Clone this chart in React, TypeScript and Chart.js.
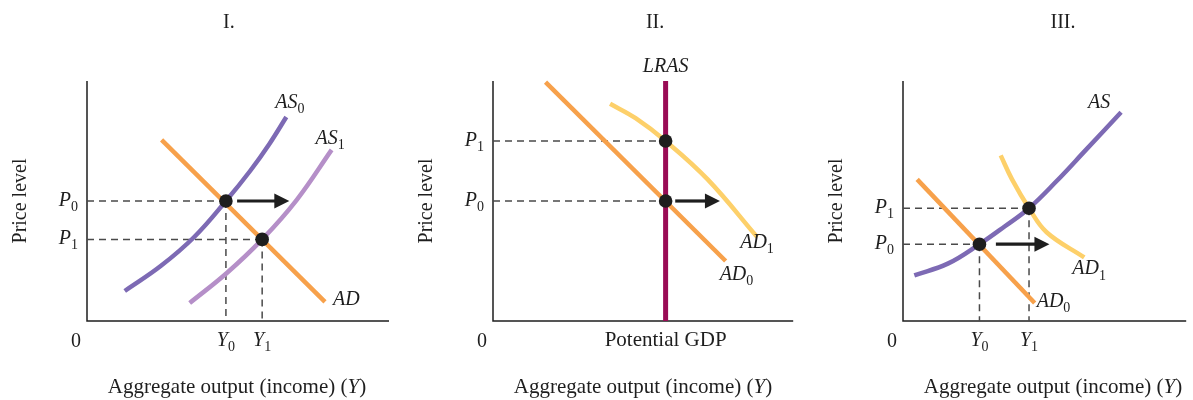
import React, { useEffect, useRef } from "react";
import { Chart, registerables } from "chart.js";

Chart.register(...registerables);

type Pt = { x: number; y: number };
type Part = { t: string; it?: boolean; sub?: boolean };

// ---------------- data ----------------
const panelTitles = ["I.", "II.", "III."];
const yAxisTitle = "Price level";
const xAxisTitleMain = "Aggregate output (income) (";
const xAxisTitleVar = "Y";
const zeroLabel = "0";
const potentialLabel = "Potential GDP";

// Panel I: AS shifts right
const p1AS0: Pt[] = [
  { x: 12.5, y: 12.5 },
  { x: 24.5, y: 23 },
  { x: 35.5, y: 35 },
  { x: 46, y: 50 },
  { x: 54, y: 62.5 },
  { x: 60.5, y: 74 },
  { x: 66, y: 85 },
];
const p1AS1: Pt[] = [
  { x: 34, y: 7.5 },
  { x: 46.3, y: 20 },
  { x: 58, y: 34 },
  { x: 69.4, y: 50.4 },
  { x: 81, y: 71.3 },
];
const p1AD: Pt[] = [
  { x: 24.7, y: 75.5 },
  { x: 78.8, y: 8 },
];
const p1Eq0: Pt = { x: 46, y: 50 };
const p1Eq1: Pt = { x: 58, y: 34 };
const p1Arrow: Pt[] = [
  { x: 49.7, y: 50 },
  { x: 67, y: 50 },
];

// Panel II: AD shifts right, vertical LRAS
const p2Potential = 57.5;
const p2LRAS: Pt[] = [
  { x: p2Potential, y: 0 },
  { x: p2Potential, y: 100 },
];
const p2AD0: Pt[] = [
  { x: 17.5, y: 99.5 },
  { x: 77.5, y: 25 },
];
const p2AD1: Pt[] = [
  { x: 39, y: 90.5 },
  { x: 47.5, y: 84.5 },
  { x: 57.5, y: 75 },
  { x: 71.5, y: 59 },
  { x: 88, y: 35 },
];
const p2P0 = 50;
const p2P1 = 75;
const p2Arrow: Pt[] = [
  { x: 60.7, y: 50 },
  { x: 75.6, y: 50 },
];

// Panel III: AD shifts right along upward-sloping AS
const p3AS: Pt[] = [
  { x: 4, y: 19 },
  { x: 16, y: 24 },
  { x: 27, y: 32 },
  { x: 36, y: 39.5 },
  { x: 44.5, y: 47 },
  { x: 54, y: 58 },
  { x: 64.5, y: 71.2 },
  { x: 77, y: 87 },
];
const p3AD0: Pt[] = [
  { x: 5, y: 59 },
  { x: 46.5, y: 7.5 },
];
const p3AD1: Pt[] = [
  { x: 34.5, y: 69 },
  { x: 38.5, y: 59 },
  { x: 44.5, y: 47 },
  { x: 50.7, y: 37 },
  { x: 64, y: 26.5 },
];
const p3Eq0: Pt = { x: 27, y: 32 };
const p3Eq1: Pt = { x: 44.5, y: 47 };
const p3Arrow: Pt[] = [
  { x: 32.8, y: 32 },
  { x: 51.7, y: 32 },
];

// ---------------- styles ----------------
const FONT = '"Liberation Serif", "Times New Roman", serif';
const FS = 20;
const FS_AXIS = 21;
const C_PURPLE = "#7d6ab4";
const C_LPURPLE = "#b58fc8";
const C_ORANGE = "#f7a14b";
const C_YELLOW = "#fdd06a";
const C_LRAS = "#990b55";
const C_INK = "#1e1e1e";
const C_DASH = "#4a4a4a";

type Curve = { data: Pt[]; color: string; width: number; tension: number; order: number };
type Label = { parts: Part[]; at: Pt; dx: number; dy: number; align: "left" | "center" | "right" };
type Spec = {
  canvasLeft: number;
  canvasWidth: number;
  padding: { left: number; right: number; top: number; bottom: number };
  title: string;
  titleX: number;
  curves: Curve[];
  dashes: Pt[][];
  dots: Pt[];
  arrow: Pt[];
  labels: Label[];
  yTicks: { parts: Part[]; v: number }[];
  xTicks: { parts: Part[]; v: number; size?: number }[];
};

const it = (t: string): Part => ({ t, it: true });
const sub = (t: string): Part => ({ t, sub: true });

function hDash(p: Pt): Pt[] {
  return [{ x: 0, y: p.y }, { x: p.x, y: p.y }];
}
function vDash(p: Pt): Pt[] {
  return [{ x: p.x, y: p.y }, { x: p.x, y: 0 }];
}

const specs: Spec[] = [
  {
    canvasLeft: 0,
    canvasWidth: 400,
    padding: { left: 87, right: 11, top: 81, bottom: 79 },
    title: panelTitles[0],
    titleX: 47,
    curves: [
      { data: p1AD, color: C_ORANGE, width: 4.5, tension: 0, order: 1 },
      { data: p1AS0, color: C_PURPLE, width: 4.5, tension: 0.4, order: 2 },
      { data: p1AS1, color: C_LPURPLE, width: 4.5, tension: 0.4, order: 2 },
    ],
    dashes: [hDash(p1Eq0), vDash(p1Eq0), hDash(p1Eq1), vDash(p1Eq1)],
    dots: [p1Eq0, p1Eq1],
    arrow: p1Arrow,
    labels: [
      { parts: [it("AS"), sub("0")], at: p1AS0[p1AS0.length - 1], dx: -11, dy: -9, align: "left" },
      { parts: [it("AS"), sub("1")], at: p1AS1[p1AS1.length - 1], dx: -16, dy: -6, align: "left" },
      { parts: [it("AD")], at: p1AD[p1AD.length - 1], dx: 8, dy: 3, align: "left" },
    ],
    yTicks: [
      { parts: [it("P"), sub("0")], v: p1Eq0.y },
      { parts: [it("P"), sub("1")], v: p1Eq1.y },
    ],
    xTicks: [
      { parts: [it("Y"), sub("0")], v: p1Eq0.x },
      { parts: [it("Y"), sub("1")], v: p1Eq1.x },
    ],
  },
  {
    canvasLeft: 400,
    canvasWidth: 400,
    padding: { left: 93, right: 4, top: 81, bottom: 79 },
    title: panelTitles[1],
    titleX: 54,
    curves: [
      { data: p2LRAS, color: C_LRAS, width: 5, tension: 0, order: 1 },
      { data: p2AD0, color: C_ORANGE, width: 4.5, tension: 0, order: 2 },
      { data: p2AD1, color: C_YELLOW, width: 4.5, tension: 0.4, order: 2 },
    ],
    dashes: [
      hDash({ x: p2Potential, y: p2P0 }),
      hDash({ x: p2Potential, y: p2P1 }),
    ],
    dots: [
      { x: p2Potential, y: p2P0 },
      { x: p2Potential, y: p2P1 },
    ],
    arrow: p2Arrow,
    labels: [
      { parts: [it("LRAS")], at: p2LRAS[1], dx: 0, dy: -9, align: "center" },
      { parts: [it("AD"), sub("1")], at: p2AD1[p2AD1.length - 1], dx: -17, dy: 11, align: "left" },
      { parts: [it("AD"), sub("0")], at: p2AD0[p2AD0.length - 1], dx: -6, dy: 19, align: "left" },
    ],
    yTicks: [
      { parts: [it("P"), sub("1")], v: p2P1 },
      { parts: [it("P"), sub("0")], v: p2P0 },
    ],
    xTicks: [{ parts: [{ t: potentialLabel }], v: p2Potential, size: FS_AXIS }],
  },
  {
    canvasLeft: 800,
    canvasWidth: 393,
    padding: { left: 103, right: 0, top: 81, bottom: 79 },
    title: panelTitles[2],
    titleX: 56.5,
    curves: [
      { data: p3AS, color: C_PURPLE, width: 4.5, tension: 0.4, order: 1 },
      { data: p3AD0, color: C_ORANGE, width: 4.5, tension: 0, order: 2 },
      { data: p3AD1, color: C_YELLOW, width: 4.5, tension: 0.4, order: 2 },
    ],
    dashes: [hDash(p3Eq0), vDash(p3Eq0), hDash(p3Eq1), vDash(p3Eq1)],
    dots: [p3Eq0, p3Eq1],
    arrow: p3Arrow,
    labels: [
      { parts: [it("AS")], at: p3AS[p3AS.length - 1], dx: -33, dy: -4, align: "left" },
      { parts: [it("AD"), sub("1")], at: p3AD1[p3AD1.length - 1], dx: -12, dy: 17, align: "left" },
      { parts: [it("AD"), sub("0")], at: p3AD0[p3AD0.length - 1], dx: 2, dy: 4, align: "left" },
    ],
    yTicks: [
      { parts: [it("P"), sub("1")], v: p3Eq1.y },
      { parts: [it("P"), sub("0")], v: p3Eq0.y },
    ],
    xTicks: [
      { parts: [it("Y"), sub("0")], v: p3Eq0.x },
      { parts: [it("Y"), sub("1")], v: p3Eq1.x },
    ],
  },
];

// ---------------- drawing helpers ----------------
function fontOf(p: Part, size: number) {
  const s = p.sub ? Math.round(size * 0.72) : size;
  return `${p.it ? "italic " : ""}${s}px ${FONT}`;
}

function drawParts(
  ctx: CanvasRenderingContext2D,
  parts: Part[],
  x: number,
  y: number,
  align: "left" | "center" | "right",
  size = FS
) {
  ctx.textAlign = "left";
  ctx.textBaseline = "alphabetic";
  const widths = parts.map((p) => {
    ctx.font = fontOf(p, size);
    return ctx.measureText(p.t).width;
  });
  const total = widths.reduce((a, b) => a + b, 0);
  let cx = align === "left" ? x : align === "center" ? x - total / 2 : x - total;
  parts.forEach((p, i) => {
    ctx.font = fontOf(p, size);
    ctx.fillText(p.t, cx, y + (p.sub ? size * 0.27 : 0));
    cx += widths[i];
  });
}

function makeConfig(spec: Spec): any {
  const datasets: any[] = [];
  datasets.push({
    type: "scatter",
    data: spec.dots,
    pointRadius: 6.8,
    pointHoverRadius: 6.8,
    backgroundColor: C_INK,
    borderWidth: 0,
    order: 0,
    clip: false,
  });
  spec.curves.forEach((c) =>
    datasets.push({
      type: "line",
      data: c.data,
      borderColor: c.color,
      borderWidth: c.width,
      tension: c.tension,
      cubicInterpolationMode: "default",
      pointRadius: 0,
      fill: false,
      order: c.order,
      clip: false,
    })
  );
  spec.dashes.forEach((d) =>
    datasets.push({
      type: "line",
      data: d,
      borderColor: C_DASH,
      borderWidth: 1.5,
      borderDash: [7, 5],
      pointRadius: 0,
      tension: 0,
      fill: false,
      order: 10,
      clip: false,
    })
  );

  const plugin = {
    id: "diagram",
    beforeDatasetsDraw(chart: any) {
      const { ctx, chartArea: a } = chart;
      ctx.save();
      ctx.strokeStyle = C_INK;
      ctx.lineWidth = 1.5;
      ctx.beginPath();
      ctx.moveTo(a.left, a.top);
      ctx.lineTo(a.left, a.bottom);
      ctx.lineTo(a.right, a.bottom);
      ctx.stroke();
      ctx.restore();
    },
    afterDatasetsDraw(chart: any) {
      const { ctx, scales } = chart;
      const [s, e] = spec.arrow;
      const x0 = scales.x.getPixelForValue(s.x);
      const x1 = scales.x.getPixelForValue(e.x);
      const y = scales.y.getPixelForValue(s.y);
      const head = 15;
      ctx.save();
      ctx.strokeStyle = C_INK;
      ctx.fillStyle = C_INK;
      ctx.lineWidth = 3.2;
      ctx.beginPath();
      ctx.moveTo(x0, y);
      ctx.lineTo(x1 - head + 1, y);
      ctx.stroke();
      ctx.beginPath();
      ctx.moveTo(x1, y);
      ctx.lineTo(x1 - head, y - 7.5);
      ctx.lineTo(x1 - head, y + 7.5);
      ctx.closePath();
      ctx.fill();
      ctx.restore();
    },
    afterDraw(chart: any) {
      const { ctx, scales, chartArea: a } = chart;
      const X = (v: number) => scales.x.getPixelForValue(v);
      const Y = (v: number) => scales.y.getPixelForValue(v);
      ctx.save();
      ctx.fillStyle = C_INK;
      // panel title
      drawParts(ctx, [{ t: spec.title }], X(spec.titleX), a.top - 53, "center");
      // y axis title
      ctx.save();
      ctx.translate(a.left - 66, (a.top + a.bottom) / 2);
      ctx.rotate(-Math.PI / 2);
      ctx.font = `${FS}px ${FONT}`;
      ctx.textAlign = "center";
      ctx.textBaseline = "middle";
      ctx.fillText(yAxisTitle, 0, 0);
      ctx.restore();
      // x axis title
      drawParts(
        ctx,
        [{ t: xAxisTitleMain }, it(xAxisTitleVar), { t: ")" }],
        a.left + 150,
        a.bottom + 72,
        "center",
        FS_AXIS
      );
      // origin
      drawParts(ctx, [{ t: zeroLabel }], a.left - 11, a.bottom + 26, "center");
      // y ticks
      spec.yTicks.forEach((t) => drawParts(ctx, t.parts, a.left - 9, Y(t.v) + 4.5, "right"));
      // x ticks
      spec.xTicks.forEach((t) =>
        drawParts(ctx, t.parts, X(t.v), a.bottom + 25, "center", t.size || FS)
      );
      // curve labels
      spec.labels.forEach((l) =>
        drawParts(ctx, l.parts, X(l.at.x) + l.dx, Y(l.at.y) + l.dy, l.align)
      );
      ctx.restore();
    },
  };

  return {
    type: "line",
    data: { datasets },
    options: {
      responsive: false,
      maintainAspectRatio: false,
      animation: false,
      events: [],
      layout: { padding: spec.padding },
      plugins: { legend: { display: false }, tooltip: { enabled: false }, title: { display: false } },
      scales: {
        x: { type: "linear", min: 0, max: 100, display: false },
        y: { type: "linear", min: 0, max: 100, display: false },
      },
    },
    plugins: [plugin],
  };
}

function Panel({ spec }: { spec: Spec }) {
  const ref = useRef<HTMLCanvasElement>(null);
  useEffect(() => {
    if (!ref.current) return;
    const chart = new Chart(ref.current, makeConfig(spec));
    return () => chart.destroy();
  }, [spec]);
  return (
    <canvas
      ref={ref}
      width={spec.canvasWidth}
      height={400}
      style={{
        position: "absolute",
        left: spec.canvasLeft,
        top: 0,
        width: spec.canvasWidth,
        height: 400,
        display: "block",
      }}
    />
  );
}

export default function App() {
  return (
    <div
      style={{
        position: "fixed",
        left: 0,
        top: 0,
        width: 1193,
        height: 400,
        background: "#ffffff",
        overflow: "hidden",
      }}
    >
      {specs.map((s, i) => (
        <Panel key={i} spec={s} />
      ))}
    </div>
  );
}
